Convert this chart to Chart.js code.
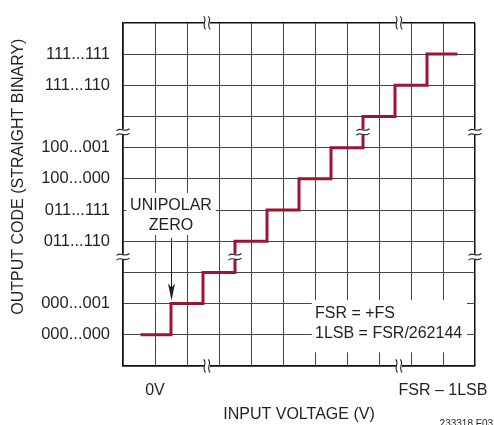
<!DOCTYPE html>
<html>
<head>
<meta charset="utf-8">
<script src="https://cdn.jsdelivr.net/npm/chart.js@4.4.1/dist/chart.umd.min.js"></script>
<style>
  html, body { margin: 0; padding: 0; background: #fff; }
</style>
</head>
<body>
<canvas id="chart" width="494" height="425"></canvas>
<script>
const FONT = "'Liberation Sans', Arial, sans-serif";
const INK = '#231f20';
const RED = '#9c1634';

// staircase transfer curve, in grid cells
const stepX = [0.55, 1.5, 2.5, 3.5, 4.5, 5.5, 6.5, 7.5, 8.5, 9.5, 10.45];
const stepY = [1, 2, 3, 4, 5, 6, 7, 8, 9, 10, 10];

// grid lines every cell
const gridSteps = [0, 1, 2, 3, 4, 5, 6, 7, 8, 9, 10, 11];

const yTickValues = [1, 2, 4, 5, 6, 7, 9, 10];
const yTickLabels = ['000...000', '000...001', '011...110', '011...111', '100...000', '100...001', '111...110', '111...111'];
const xTickValues = [1, 10];
const xTickLabels = ['0V', 'FSR \u2013 1LSB'];

// break marks: axis breaks and the two on the curve
const xBreaks = [2.62, 8.62];
const yBreaks = [3.5, 7.5];
const curveBreaks = [[3.5, 3.5], [7.5, 7.5]];

function labelFor(values, labels) {
    return v => {
        const i = values.indexOf(v);
        return i < 0 ? '' : labels[i];
    };
}

function squiggle(ctx, cx, cy, vertical) {
    ctx.save();
    ctx.translate(cx, cy);
    if (vertical) ctx.rotate(Math.PI / 2);
    ctx.fillStyle = '#fff';
    ctx.fillRect(-5, -3, 10, 6);
    ctx.strokeStyle = INK;
    ctx.lineWidth = 1.1;
    [-2.3, 2.3].forEach(off => {
        ctx.beginPath();
        ctx.moveTo(-6.5, off + 1);
        ctx.bezierCurveTo(-3, off - 3.5, 1, off + 3.5, 6.5, off - 1);
        ctx.stroke();
    });
    ctx.restore();
}

const annotations = {
    id: 'annotations',
    afterDraw(chart) {
        const {ctx, scales: {x, y}} = chart;
        ctx.save();

        // break marks
        xBreaks.forEach(v => {
            squiggle(ctx, x.getPixelForValue(v), y.getPixelForValue(11), true);
            squiggle(ctx, x.getPixelForValue(v), y.getPixelForValue(0), true);
        });
        yBreaks.forEach(v => {
            squiggle(ctx, x.getPixelForValue(0), y.getPixelForValue(v), false);
            squiggle(ctx, x.getPixelForValue(11), y.getPixelForValue(v), false);
        });
        curveBreaks.forEach(p => squiggle(ctx, x.getPixelForValue(p[0]), y.getPixelForValue(p[1]), false));

        // UNIPOLAR ZERO label and arrow
        ctx.fillStyle = '#fff';
        ctx.fillRect(x.getPixelForValue(0.1), y.getPixelForValue(5.55), x.getPixelForValue(2.9) - x.getPixelForValue(0.1), y.getPixelForValue(4.2) - y.getPixelForValue(5.55));
        ctx.fillStyle = INK;
        ctx.font = '16px ' + FONT;
        ctx.textAlign = 'center';
        ctx.textBaseline = 'middle';
        ctx.fillText('UNIPOLAR', x.getPixelForValue(1.5), y.getPixelForValue(5.13));
        ctx.fillText('ZERO', x.getPixelForValue(1.5), y.getPixelForValue(4.51));

        const ax = Math.round(x.getPixelForValue(1.5)) + 0.5;
        const aTop = y.getPixelForValue(4.1);
        const aTip = y.getPixelForValue(2.1);
        ctx.strokeStyle = INK;
        ctx.lineWidth = 1;
        ctx.beginPath();
        ctx.moveTo(ax, aTop);
        ctx.lineTo(ax, aTip - 10);
        ctx.stroke();
        ctx.beginPath();
        ctx.moveTo(ax - 3.5, aTip - 17);
        ctx.lineTo(ax, aTip - 13);
        ctx.lineTo(ax + 3.5, aTip - 17);
        ctx.lineTo(ax, aTip);
        ctx.closePath();
        ctx.fill();

        // FSR note
        ctx.fillStyle = '#fff';
        ctx.fillRect(x.getPixelForValue(5.9), y.getPixelForValue(2.11), x.getPixelForValue(10.75) - x.getPixelForValue(5.9), y.getPixelForValue(0.44) - y.getPixelForValue(2.11));
        ctx.fillStyle = INK;
        ctx.textAlign = 'left';
        ctx.fillText('FSR = +FS', x.getPixelForValue(6.0), y.getPixelForValue(1.69));
        ctx.fillText('1LSB = FSR/262144', x.getPixelForValue(6.0), y.getPixelForValue(1.03));

        // figure id
        ctx.font = '10px ' + FONT;
        ctx.textAlign = 'right';
        ctx.textBaseline = 'top';
        ctx.fillText('233318 F03', 493, 419);
        ctx.restore();
    }
};

const gridColor = c => (c.tick && (c.tick.value === 0 || c.tick.value === 11)) ? '#111' : '#444';
const gridWidth = c => (c.tick && (c.tick.value === 0 || c.tick.value === 11)) ? 1.5 : 1;

new Chart(document.getElementById('chart'), {
    type: 'line',
    data: {
        datasets: [{
            data: stepX.map((v, i) => ({x: v, y: stepY[i]})),
            borderColor: RED,
            borderWidth: 3,
            stepped: 'before',
            pointRadius: 0,
            fill: false
        }]
    },
    options: {
        responsive: false,
        animation: false,
        layout: {padding: {top: 14, right: 19, left: 0, bottom: 0}},
        plugins: {legend: {display: false}, tooltip: {enabled: false}},
        scales: {
            x: {
                type: 'linear',
                min: 0,
                max: 11,
                afterBuildTicks: s => { s.ticks = gridSteps.map(v => ({value: v})); },
                afterFit: s => { s.height = 59; },
                grid: {color: gridColor, lineWidth: gridWidth, drawTicks: false},
                border: {color: '#111', width: 1.5},
                ticks: {
                    autoSkip: false,
                    maxRotation: 0,
                    padding: 15,
                    color: INK,
                    font: {family: FONT, size: 16},
                    callback: labelFor(xTickValues, xTickLabels)
                },
                title: {
                    display: true,
                    text: 'INPUT VOLTAGE (V)',
                    color: INK,
                    font: {family: FONT, size: 16},
                    padding: {top: 0, bottom: 1}
                }
            },
            y: {
                type: 'linear',
                min: 0,
                max: 11,
                afterBuildTicks: s => { s.ticks = gridSteps.map(v => ({value: v})); },
                afterFit: s => { s.width = 123; },
                grid: {color: gridColor, lineWidth: gridWidth, drawTicks: false},
                border: {color: '#111', width: 1.5},
                ticks: {
                    autoSkip: false,
                    padding: 13,
                    color: INK,
                    font: {family: FONT, size: 16.5},
                    callback: labelFor(yTickValues, yTickLabels)
                },
                title: {
                    display: true,
                    text: '        OUTPUT CODE (STRAIGHT BINARY)',
                    color: INK,
                    font: {family: FONT, size: 16},
                    padding: {top: 9, bottom: 0}
                }
            }
        }
    },
    plugins: [annotations]
});
</script>
</body>
</html>
